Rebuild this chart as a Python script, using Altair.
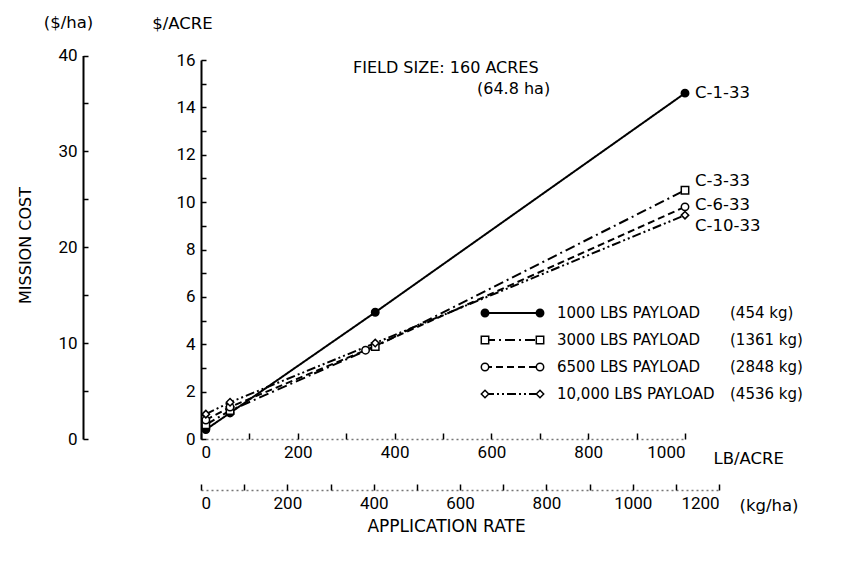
import altair as alt
import pandas as pd

# ---------------- data ----------------
rate_lb = [10, 60, 360, 1000]
rate_lb_6500 = [10, 60, 340, 1000]
cost_1000 = [0.4, 1.1, 5.35, 14.6]
cost_3000 = [0.6, 1.2, 3.9, 10.5]
cost_6500 = [0.8, 1.35, 3.75, 9.8]
cost_10000 = [1.05, 1.55, 4.05, 9.45]
series = ["1000 LBS PAYLOAD", "3000 LBS PAYLOAD", "6500 LBS PAYLOAD", "10,000 LBS PAYLOAD"]
series_kg = ["(454 kg)", "(1361 kg)", "(2848 kg)", "(4536 kg)"]
end_labels = ["C-1-33", "C-3-33", "C-6-33", "C-10-33"]
note_lines = ["FIELD SIZE:  160 ACRES", "(64.8 ha)"]
lb_ticks = list(range(0, 1001, 100))
lb_labels = list(range(0, 1001, 200))
kg_ticks = list(range(0, 1201, 100))
kg_labels = list(range(0, 1201, 200))
acre_ticks = list(range(0, 17))
acre_labels = list(range(0, 17, 2))
ha_ticks = list(range(0, 41, 5))
ha_labels = list(range(0, 41, 10))

LB_TO_KGHA = 1.12085
ACRE_TO_HA = 2.47105

rates = [rate_lb, rate_lb, rate_lb_6500, rate_lb]
costs = [cost_1000, cost_3000, cost_6500, cost_10000]

# ---------------- styles ----------------
W, H = 484, 379
FONT = "Roboto"
TFONT = "DejaVu Sans"
dashes = [[1, 0], [10, 4, 2, 4], [7, 4], [9, 3, 2, 3, 2, 3]]
shapes = ["circle", "square", "circle", "diamond"]
fills = ["black", "white", "white", "white"]
label_dy = [0, -9, -2, 11]

axA_x = alt.Axis(values=lb_labels, format="d", ticks=False, domainColor="#777", domainDash=[2, 3],
                 domainWidth=1.5, labelPadding=5, title="LB/ACRE", titleX=512, titleY=19,
                 titleAlign="left", titleBaseline="middle", titleAngle=0, grid=False)
axA_y = alt.Axis(values=acre_labels, format="d", ticks=False, domainColor="black", domainWidth=2,
                 labelPadding=6, title="$/ACRE", titleAngle=0, titleX=-19, titleY=-37,
                 titleAlign="center", titleBaseline="middle", grid=False)

xs = alt.X("rate:Q", scale=alt.Scale(domain=[0, 1000]), axis=axA_x)
ys = alt.Y("cost:Q", scale=alt.Scale(domain=[0, 16]), axis=axA_y)

layers_a = []
for i in range(4):
    df_i = pd.DataFrame({"rate": rates[i], "cost": costs[i]})
    layers_a.append(alt.Chart(df_i).mark_line(color="black", strokeWidth=2, strokeDash=dashes[i])
                    .encode(x=xs, y=ys))
for i in range(4):
    df_i = pd.DataFrame({"rate": rates[i], "cost": costs[i]})
    layers_a.append(alt.Chart(df_i).mark_point(shape=shapes[i], filled=True, fill=fills[i],
                                               stroke="black", strokeWidth=1.5, size=55, opacity=1)
                    .encode(x=xs, y=ys))
    lab = pd.DataFrame({"rate": [rates[i][-1]], "cost": [costs[i][-1]], "label": [end_labels[i]]})
    layers_a.append(alt.Chart(lab).mark_text(align="left", baseline="middle", dx=10, dy=label_dy[i],
                                             font=TFONT, fontSize=16.5, color="black")
                    .encode(x=xs, y=ys, text="label:N"))

# legend drawn inside the plot
for i in range(4):
    ly = 253 + 27 * i
    ld = pd.DataFrame({"s": [series[i]], "kg": [series_kg[i]]})
    layers_a.append(alt.Chart(ld).mark_rule(color="black", strokeWidth=2, strokeDash=dashes[i])
                    .encode(x=alt.value(284), x2=alt.value(339), y=alt.value(ly)))
    for px in (284, 339):
        layers_a.append(alt.Chart(ld).mark_point(shape=shapes[i], filled=True, fill=fills[i],
                                                 stroke="black", strokeWidth=1.5, size=55, opacity=1)
                        .encode(x=alt.value(px), y=alt.value(ly)))
    layers_a.append(alt.Chart(ld).mark_text(align="left", baseline="middle", font=TFONT,
                                            fontSize=15, color="black")
                    .encode(x=alt.value(356), y=alt.value(ly), text="s:N"))
    layers_a.append(alt.Chart(ld).mark_text(align="left", baseline="middle", font=TFONT,
                                            fontSize=15, color="black")
                    .encode(x=alt.value(529), y=alt.value(ly), text="kg:N"))

note0 = pd.DataFrame({"t": [note_lines[0]]})
note1 = pd.DataFrame({"t": [note_lines[1]]})
layers_a.append(alt.Chart(note0).mark_text(align="left", baseline="middle", font=TFONT, fontSize=16,
                                           color="black")
                .encode(x=alt.value(152), y=alt.value(8), text="t:N"))
layers_a.append(alt.Chart(note1).mark_text(align="left", baseline="middle", font=TFONT, fontSize=16,
                                           color="black")
                .encode(x=alt.value(276), y=alt.value(29), text="t:N"))

layer_a = alt.layer(*layers_a)

base = pd.DataFrame({"rate": rate_lb, "cost": cost_1000})

# inward tick marks for main axes
layer_b = alt.Chart(base).mark_point(opacity=0).encode(
    x=alt.X("rate:Q", scale=alt.Scale(domain=[0, 1000]),
            axis=alt.Axis(orient="top", offset=-H, values=lb_ticks, labels=False, domain=False,
                          tickSize=6, tickColor="black", tickWidth=1.5, title="", grid=False)),
    y=alt.Y("cost:Q", scale=alt.Scale(domain=[0, 16]),
            axis=alt.Axis(orient="right", offset=-W, values=acre_ticks, labels=False, domain=False,
                          tickSize=5, tickColor="black", tickWidth=1.5, title="", grid=False)),
)

KG_RANGE = W * 1200 / (1000 * LB_TO_KGHA)
HA_TOP = H - 40 / ACRE_TO_HA * H / 16

conv = alt.Chart(base).transform_calculate(kg=f"datum.rate * {LB_TO_KGHA}",
                                           ha=f"datum.cost * {ACRE_TO_HA}")

layer_c = conv.mark_point(opacity=0).encode(
    x=alt.X("kg:Q", scale=alt.Scale(domain=[0, 1200], range=[0, KG_RANGE]),
            axis=alt.Axis(orient="bottom", offset=51, values=kg_labels, format="d", ticks=False,
                          domainColor="#777", domainDash=[2, 3], domainWidth=1.5, labelPadding=5,
                          title="(kg/ha)", titleX=538, titleY=15, titleAlign="left",
                          titleBaseline="middle", titleAngle=0, grid=False)),
    y=alt.Y("ha:Q", scale=alt.Scale(domain=[0, 40], range=[H, HA_TOP]),
            axis=alt.Axis(orient="left", offset=118, values=ha_labels, format="d", ticks=False,
                          domainColor="black", domainWidth=2, labelPadding=6, title="($/ha)",
                          titleAngle=0, titleX=-15, titleY=-38, titleAlign="center",
                          titleBaseline="middle", grid=False)),
)

layer_d = conv.mark_point(opacity=0).encode(
    x=alt.X("kg:Q", scale=alt.Scale(domain=[0, 1200], range=[0, KG_RANGE]),
            axis=alt.Axis(orient="top", offset=-(H + 51), values=kg_ticks, labels=False,
                          domain=False, tickSize=6, tickColor="black", tickWidth=1.5, title="",
                          grid=False)),
    y=alt.Y("ha:Q", scale=alt.Scale(domain=[0, 40], range=[H, HA_TOP]),
            axis=alt.Axis(orient="right", offset=-(W + 118), values=ha_ticks, labels=False,
                          domain=False, tickSize=5, tickColor="black", tickWidth=1.5, title="",
                          grid=False)),
)

layer_e = alt.Chart(base).mark_point(opacity=0).encode(
    x=alt.X("rate:Q", scale=alt.Scale(domain=[0, 1000]),
            axis=alt.Axis(orient="bottom", offset=51, labels=False, ticks=False, domain=False,
                          title="APPLICATION RATE", titleX=245, titleY=36, titleAlign="center",
                          titleBaseline="middle", titleAngle=0, titleFontSize=17, grid=False)),
    y=alt.Y("cost:Q", scale=alt.Scale(domain=[0, 16]),
            axis=alt.Axis(orient="left", labels=False, ticks=False, domain=False,
                          title="MISSION COST", titleX=-176, titleY=185, titleAlign="center",
                          titleBaseline="middle", titleAngle=-90, titleFontSize=16, grid=False)),
)

chart = alt.layer(layer_a, layer_b, layer_c, layer_d, layer_e).resolve_scale(
    x="independent", y="independent"
).properties(
    width=W, height=H,
    padding={"left": 193, "top": 52, "right": 149, "bottom": 118},
    autosize=alt.AutoSizeParams(type="none"),
    background="white",
).configure_view(stroke="transparent").configure_axis(
    labelFont=FONT, labelFontSize=17, labelColor="black",
    titleFont=TFONT, titleFontSize=16.5, titleFontWeight="normal", titleColor="black",
)

chart.save("out.html", embed_options={"renderer": "svg", "actions": False})
